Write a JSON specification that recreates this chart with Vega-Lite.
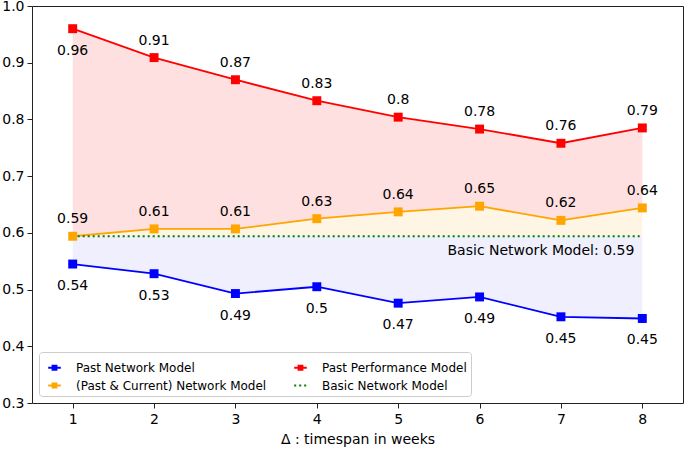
{
  "$schema": "https://vega.github.io/schema/vega-lite/v6.json",
  "width": 651,
  "height": 397,
  "padding": {"left": 32, "top": 6, "right": 2, "bottom": 47},
  "autosize": {"type": "none"},
  "background": "white",
  "config": {
    "font": "DejaVu Sans",
    "view": {"stroke": "#222222", "strokeWidth": 1},
    "axis": {"grid": false, "domain": false, "tickColor": "#222222", "tickSize": 5, "labelFontSize": 14, "labelColor": "black", "titleFontSize": 14, "titleFontWeight": "normal", "titleColor": "black", "labelFont": "DejaVu Sans", "titleFont": "DejaVu Sans"}
  },
  "datasets": {
    "series": [
      {"week": 1, "model": "Past Performance Model", "value": 0.960, "label": "0.96", "pos": "below"},
      {"week": 2, "model": "Past Performance Model", "value": 0.909, "label": "0.91", "pos": "above"},
      {"week": 3, "model": "Past Performance Model", "value": 0.870, "label": "0.87", "pos": "above"},
      {"week": 4, "model": "Past Performance Model", "value": 0.833, "label": "0.83", "pos": "above"},
      {"week": 5, "model": "Past Performance Model", "value": 0.804, "label": "0.8", "pos": "above"},
      {"week": 6, "model": "Past Performance Model", "value": 0.783, "label": "0.78", "pos": "above"},
      {"week": 7, "model": "Past Performance Model", "value": 0.758, "label": "0.76", "pos": "above"},
      {"week": 8, "model": "Past Performance Model", "value": 0.785, "label": "0.79", "pos": "above"},
      {"week": 1, "model": "(Past & Current) Network Model", "value": 0.594, "label": "0.59", "pos": "above"},
      {"week": 2, "model": "(Past & Current) Network Model", "value": 0.607, "label": "0.61", "pos": "above"},
      {"week": 3, "model": "(Past & Current) Network Model", "value": 0.607, "label": "0.61", "pos": "above"},
      {"week": 4, "model": "(Past & Current) Network Model", "value": 0.625, "label": "0.63", "pos": "above"},
      {"week": 5, "model": "(Past & Current) Network Model", "value": 0.637, "label": "0.64", "pos": "above"},
      {"week": 6, "model": "(Past & Current) Network Model", "value": 0.647, "label": "0.65", "pos": "above"},
      {"week": 7, "model": "(Past & Current) Network Model", "value": 0.622, "label": "0.62", "pos": "above"},
      {"week": 8, "model": "(Past & Current) Network Model", "value": 0.644, "label": "0.64", "pos": "above"},
      {"week": 1, "model": "Past Network Model", "value": 0.545, "label": "0.54", "pos": "below"},
      {"week": 2, "model": "Past Network Model", "value": 0.528, "label": "0.53", "pos": "below"},
      {"week": 3, "model": "Past Network Model", "value": 0.493, "label": "0.49", "pos": "below"},
      {"week": 4, "model": "Past Network Model", "value": 0.505, "label": "0.5", "pos": "below"},
      {"week": 5, "model": "Past Network Model", "value": 0.476, "label": "0.47", "pos": "below"},
      {"week": 6, "model": "Past Network Model", "value": 0.487, "label": "0.49", "pos": "below"},
      {"week": 7, "model": "Past Network Model", "value": 0.452, "label": "0.45", "pos": "below"},
      {"week": 8, "model": "Past Network Model", "value": 0.449, "label": "0.45", "pos": "below"},
      {"week": 1, "model": "Basic Network Model", "value": 0.594, "label": "", "pos": "none"},
      {"week": 8, "model": "Basic Network Model", "value": 0.594, "label": "Basic Network Model: 0.59", "pos": "basic"}
    ],
    "bands": [
      {"week": 1, "red": 0.960, "orange": 0.594, "blue": 0.545, "basic": 0.594},
      {"week": 2, "red": 0.909, "orange": 0.607, "blue": 0.528, "basic": 0.594},
      {"week": 3, "red": 0.870, "orange": 0.607, "blue": 0.493, "basic": 0.594},
      {"week": 4, "red": 0.833, "orange": 0.625, "blue": 0.505, "basic": 0.594},
      {"week": 5, "red": 0.804, "orange": 0.637, "blue": 0.476, "basic": 0.594},
      {"week": 6, "red": 0.783, "orange": 0.647, "blue": 0.487, "basic": 0.594},
      {"week": 7, "red": 0.758, "orange": 0.622, "blue": 0.452, "basic": 0.594},
      {"week": 8, "red": 0.785, "orange": 0.644, "blue": 0.449, "basic": 0.594}
    ]
  },
  "encoding": {
    "x": {"field": "week", "type": "quantitative", "scale": {"domain": [0.5, 8.5], "nice": false, "zero": false}, "axis": {"values": [1, 2, 3, 4, 5, 6, 7, 8], "format": "d", "title": "Δ : timespan in weeks", "labelPadding": 4, "titlePadding": 6}}
  },
  "layer": [
    {
      "data": {"name": "bands"},
      "mark": {"type": "area", "color": "#ffe0e0", "opacity": 1},
      "encoding": {
        "y": {"field": "orange", "type": "quantitative", "scale": {"domain": [0.3, 1.0], "nice": false, "zero": false}, "axis": {"values": [0.3, 0.4, 0.5, 0.6, 0.7, 0.8, 0.9, 1.0], "format": ".1f", "title": null, "labelPadding": 3}},
        "y2": {"field": "red"}
      }
    },
    {
      "data": {"name": "bands"},
      "mark": {"type": "area", "color": "#fff5e5", "opacity": 1},
      "encoding": {
        "y": {"field": "basic", "type": "quantitative"},
        "y2": {"field": "orange"}
      }
    },
    {
      "data": {"name": "bands"},
      "mark": {"type": "area", "color": "#efeffd", "opacity": 1},
      "encoding": {
        "y": {"field": "blue", "type": "quantitative"},
        "y2": {"field": "basic"}
      }
    },
    {
      "data": {"name": "series"},
      "transform": [{"filter": "datum.model !== 'Basic Network Model'"}],
      "mark": {"type": "line", "strokeWidth": 1.8},
      "encoding": {
        "y": {"field": "value", "type": "quantitative"},
        "color": {
          "field": "model", "type": "nominal",
          "scale": {"domain": ["Past Network Model", "(Past & Current) Network Model", "Past Performance Model", "Basic Network Model"], "range": ["#0000ff", "#ffa500", "#ff0000", "#008000"]},
          "legend": {
            "title": null,
            "orient": "bottom-left",
            "offset": 7,
            "columns": 2,
            "columnPadding": 22,
            "rowPadding": 0,
            "padding": 4,
            "fillColor": "rgba(255,255,255,0.85)",
            "strokeColor": "#cccccc",
            "cornerRadius": 3,
            "labelFontSize": 12,
            "labelFont": "DejaVu Sans",
            "labelColor": "black",
            "labelLimit": 400,
            "labelOffset": 10,
            "symbolSize": 441,
            "symbolStrokeWidth": 1.8,
            "encode": {
              "symbols": {
                "update": {
                  "shape": {"signal": "datum.value === 'Basic Network Model' ? 'M-0.6,0H0.6' : 'M-0.6,0H0.6M-0.19,-0.19H0.19V0.19H-0.19Z'"},
                  "fill": {"signal": "datum.value === 'Basic Network Model' ? 'transparent' : scale('color', datum.value)"},
                  "stroke": {"signal": "scale('color', datum.value)"},
                  "strokeDash": {"signal": "datum.value === 'Basic Network Model' ? [2, 3] : [1, 0]"},
                  "strokeWidth": {"value": 1.8},
                  "opacity": {"value": 1}
                }
              }
            }
          }
        }
      }
    },
    {
      "data": {"name": "series"},
      "transform": [{"filter": "datum.model === 'Basic Network Model'"}],
      "mark": {"type": "line", "strokeWidth": 2, "strokeDash": [2, 3]},
      "encoding": {
        "y": {"field": "value", "type": "quantitative"},
        "color": {"field": "model", "type": "nominal"}
      }
    },
    {
      "data": {"name": "series"},
      "transform": [{"filter": "datum.model !== 'Basic Network Model'"}],
      "mark": {"type": "point", "shape": "square", "filled": true, "size": 80, "opacity": 1},
      "encoding": {
        "y": {"field": "value", "type": "quantitative"},
        "color": {"field": "model", "type": "nominal"}
      }
    },
    {
      "data": {"name": "series"},
      "transform": [{"filter": "datum.pos === 'above'"}],
      "mark": {"type": "text", "fontSize": 14, "font": "DejaVu Sans", "color": "black", "baseline": "alphabetic", "align": "center", "dy": -13},
      "encoding": {
        "y": {"field": "value", "type": "quantitative"},
        "text": {"field": "label"}
      }
    },
    {
      "data": {"name": "series"},
      "transform": [{"filter": "datum.pos === 'below'"}],
      "mark": {"type": "text", "fontSize": 14, "font": "DejaVu Sans", "color": "black", "baseline": "alphabetic", "align": "center", "dy": 26},
      "encoding": {
        "y": {"field": "value", "type": "quantitative"},
        "text": {"field": "label"}
      }
    },
    {
      "data": {"name": "series"},
      "transform": [{"filter": "datum.pos === 'basic'"}],
      "mark": {"type": "text", "fontSize": 14, "font": "DejaVu Sans", "color": "black", "baseline": "alphabetic", "align": "right", "dx": -8, "dy": 19},
      "encoding": {
        "y": {"field": "value", "type": "quantitative"},
        "text": {"field": "label"}
      }
    }
  ]
}
